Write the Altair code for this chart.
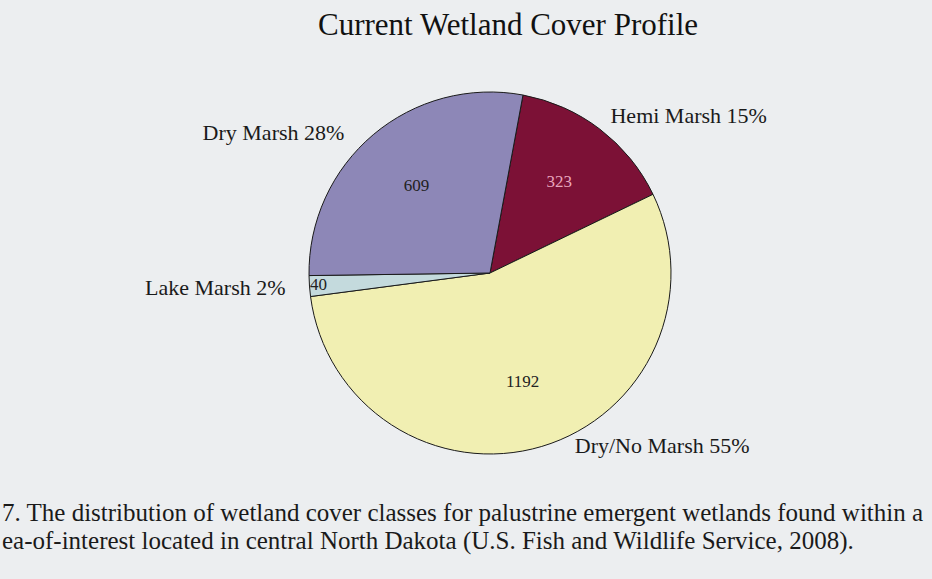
import math
import altair as alt
import pandas as pd

categories = ["Hemi Marsh", "Dry/No Marsh", "Lake Marsh", "Dry Marsh"]
values = [323, 1192, 40, 609]
percents = ["15%", "55%", "2%", "28%"]
colors = ["#7c1136", "#f1efb2", "#c4dadd", "#8d87b7"]
value_text_colors = ["#e9a7bd", "#222222", "#222222", "#222222"]

caption_lines = [
    "7. The distribution of wetland cover classes for palustrine emergent wetlands found within a",
    "ea-of-interest located in central North Dakota (U.S. Fish and Wildlife Service, 2008).",
]

df = pd.DataFrame({
    "category": categories,
    "value": values,
    "idx": list(range(len(categories))),
    "label": [f"{c} {p}" for c, p in zip(categories, percents)],
    "vtext": [str(v) for v in values],
    "tcol": value_text_colors,
})

t0 = math.radians(10.5)
CX, CY, R = 490, 273, 181
FONT = "Liberation Serif"

base = alt.Chart(df).transform_joinaggregate(
    total="sum(value)"
).transform_window(
    cum="sum(value)", sort=[alt.SortField("idx")], frame=[None, 0]
).transform_calculate(
    start="(datum.cum - datum.value) / datum.total",
    end="datum.cum / datum.total",
    mid="(datum.cum - datum.value / 2) / datum.total",
).encode(x=alt.value(CX), y=alt.value(CY))

tscale = alt.Scale(domain=[0, 1], range=[t0, t0 + 2 * math.pi])

pie = base.mark_arc(outerRadius=R, stroke="#1a1a1a", strokeWidth=1).encode(
    theta=alt.Theta("start:Q", scale=tscale),
    theta2="end:Q",
    color=alt.Color("category:N", scale=alt.Scale(domain=categories, range=colors), legend=None),
)

mid_theta = alt.Theta("mid:Q", scale=tscale)

inner_main = base.transform_filter(alt.datum.category != "Lake Marsh").mark_text(
    radius=114, font=FONT, fontSize=17
).encode(theta=mid_theta, text="vtext:N", color=alt.Color("tcol:N", scale=None))

inner_lake = base.transform_filter(alt.datum.category == "Lake Marsh").mark_text(
    radius=172, font=FONT, fontSize=17, color="#222222"
).encode(theta=mid_theta, text="vtext:N")

def outer(cat, radius, align, dx, dy):
    return base.transform_filter(alt.datum.category == cat).mark_text(
        radius=radius, font=FONT, fontSize=22, align=align, dx=dx, dy=dy, color="#1a1a1a"
    ).encode(theta=mid_theta, text="label:N")

lab_hemi = outer("Hemi Marsh", 215, "left", -10, 14)
lab_dry = outer("Dry Marsh", 215, "right", -7, 24)
lab_lake = outer("Lake Marsh", 205, "right", 0, 0)
lab_drynone = outer("Dry/No Marsh", 195, "left", 29, -14)

cap_df = pd.DataFrame({"line": caption_lines, "row": [0, 1]})
caption = alt.Chart(cap_df).mark_text(
    font=FONT, fontSize=25, align="left", baseline="alphabetic", color="#1a1a1a"
).encode(
    x=alt.value(2),
    y=alt.Y("row:Q", scale=alt.Scale(domain=[0, 1], range=[521, 549]), axis=None),
    text="line:N",
)

chart = alt.layer(pie, inner_main, inner_lake, lab_hemi, lab_dry, lab_lake, lab_drynone, caption).properties(
    width=932, height=579,
    title=alt.TitleParams("Current Wetland Cover Profile", font=FONT, fontSize=31,
                          fontWeight="normal", color="#111111", anchor="start", dx=318, dy=0,
                          offset=-42),
    padding=0, autosize=alt.AutoSizeParams(type="none"),
    background="#eceef0",
).configure_view(stroke=None)

chart.save("out.html", embed_options={"renderer": "svg", "actions": False})
